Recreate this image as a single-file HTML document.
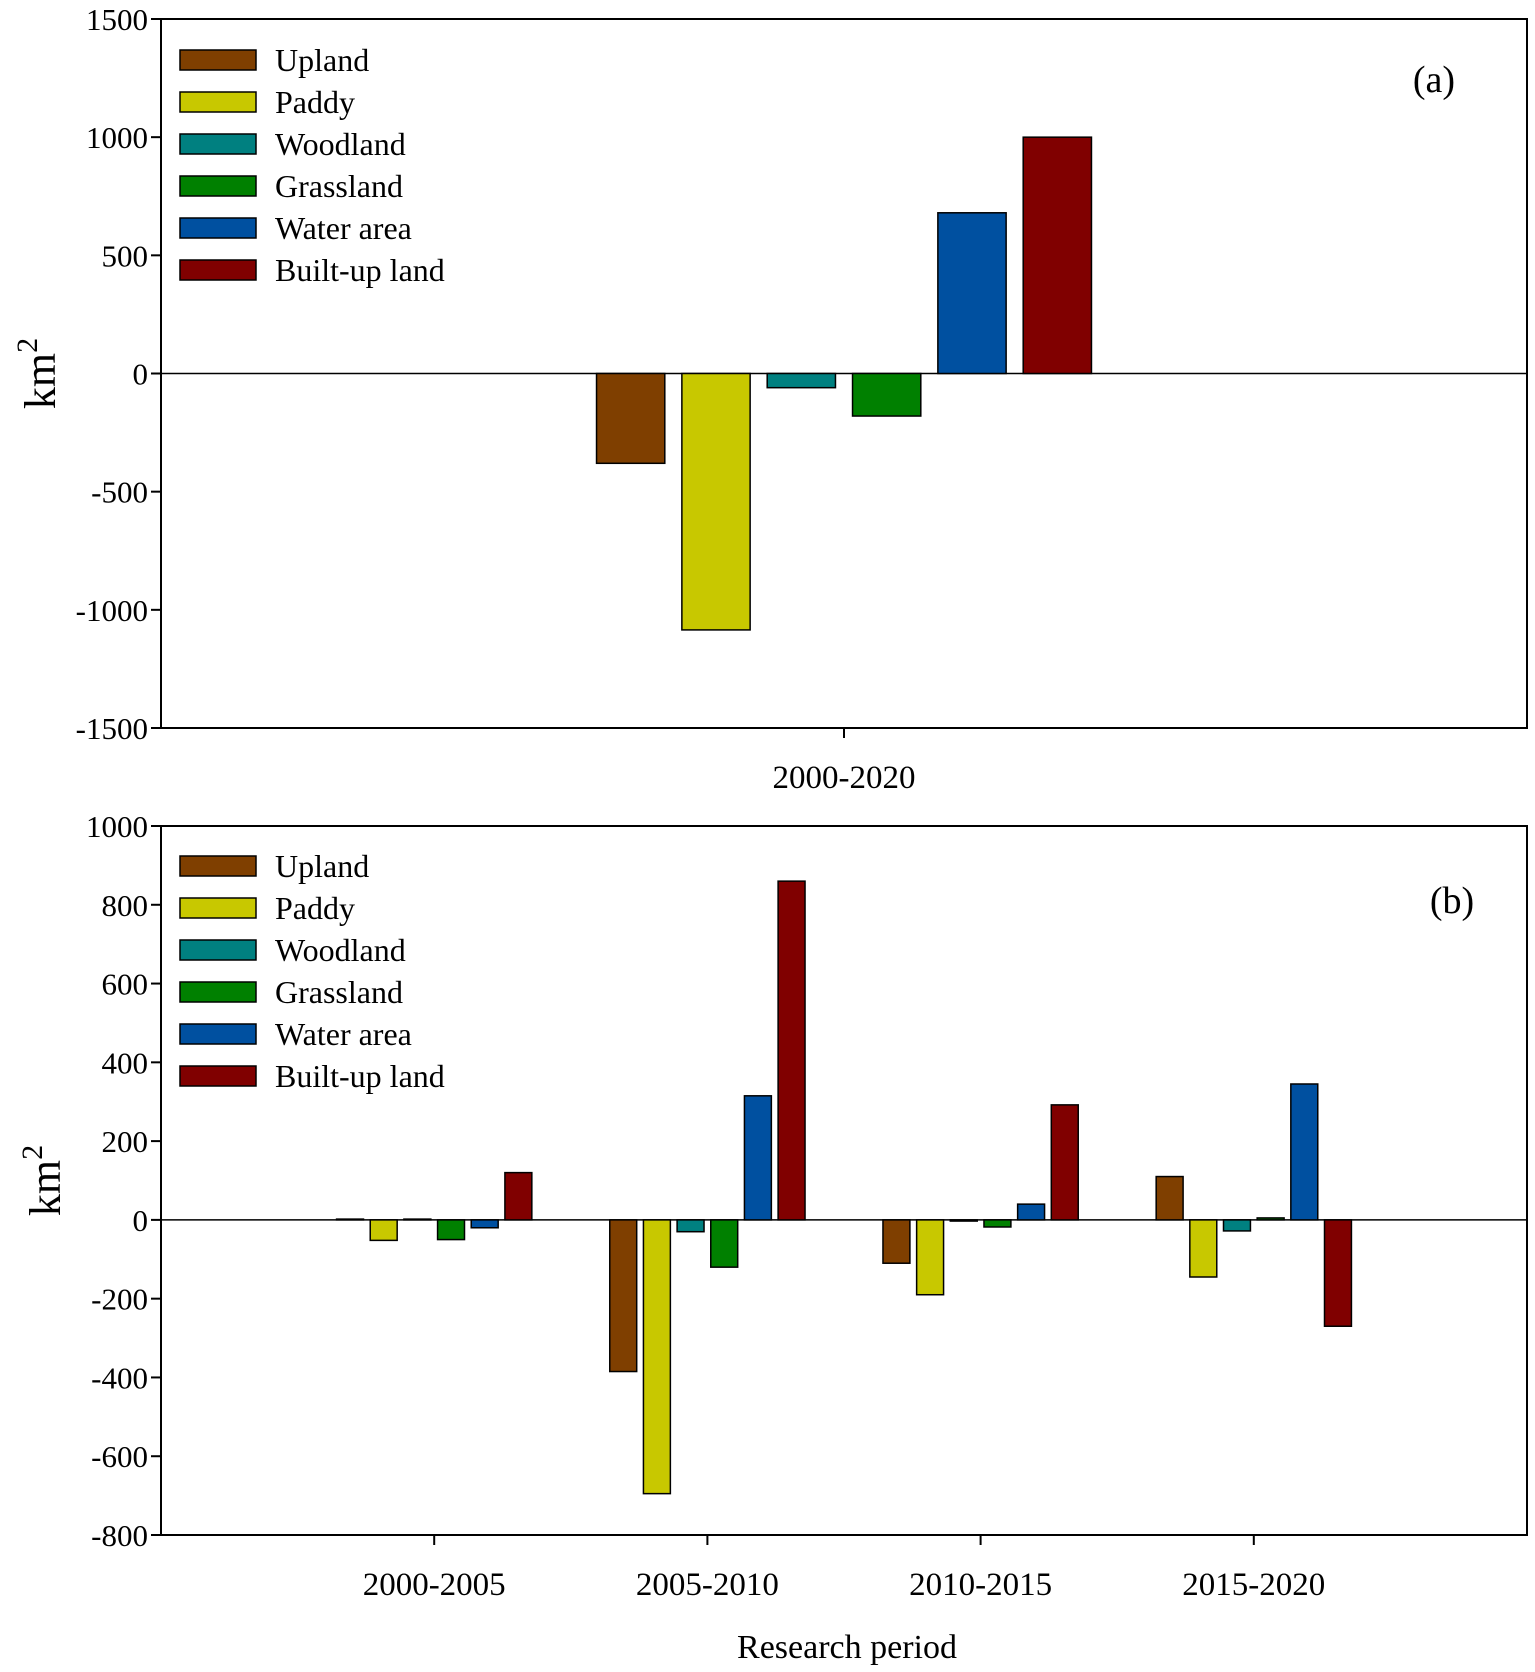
<!DOCTYPE html>
<html><head><meta charset="utf-8"><style>
body{margin:0;background:#fff}
svg text{font-family:"Liberation Serif",serif;fill:#000}
</style></head><body>
<svg id="c" width="1535" height="1667" xmlns="http://www.w3.org/2000/svg"></svg>
<script>
const seriesNames = ["Upland","Paddy","Woodland","Grassland","Water area","Built-up land"];
const seriesColors = ["#7f3f00","#c8c800","#008080","#008000","#0050a0","#800000"];
const catsA = ["2000-2020"];
const valsA = [[-380],[-1085],[-60],[-180],[680],[1000]];
const ticksA = [1500,1000,500,0,-500,-1000,-1500];
const catsB = ["2000-2005","2005-2010","2010-2015","2015-2020"];
const valsB = [
  [2,-385,-110,110],
  [-52,-695,-190,-145],
  [2,-30,-3,-28],
  [-50,-120,-18,5],
  [-20,315,40,345],
  [120,860,292,-270]
];
const ticksB = [1000,800,600,400,200,0,-200,-400,-600,-800];
const NS="http://www.w3.org/2000/svg";
const svg=document.getElementById('c');
function mk(t,a,p){const e=document.createElementNS(NS,t);for(const k in a)e.setAttribute(k,a[k]);(p||svg).appendChild(e);return e;}
function panel(o){
  const g=mk('g',{});
  
  
  const L=161,R=1527,T=o.top,B=o.bottom,min=o.ticks[o.ticks.length-1],max=o.ticks[0];
  const y=v=>T+(max-v)/(max-min)*(B-T);
  const n=o.cats.length, step=(R-L)/(n+1);
  const xc=i=>L+step*(i+1);
  const z=mk('line',{x1:L,x2:R,y1:y(0),y2:y(0),stroke:'#000','stroke-width':1.5},g);
  
  
  const gw=o.groupW, bstep=gw/6, bw=bstep*0.8;
  for(let s=0;s<6;s++){for(let i=0;i<n;i++){
    const v=o.vals[s][i];
    const x=xc(i)-gw/2+s*bstep+(bstep-bw)/2;
    const r=mk('rect',{x:x,y:Math.min(y(v),y(0)),width:bw,height:Math.abs(y(v)-y(0)),fill:seriesColors[s],stroke:'#000','stroke-width':1.5},g);
    
    
  }}
  const f=mk('rect',{x:L,y:T,width:R-L,height:B-T,fill:'none',stroke:'#000','stroke-width':2},g);
  
  
  o.ticks.forEach(t=>{
    mk('line',{x1:L-10,x2:L,y1:y(t),y2:y(t),stroke:'#000','stroke-width':2},g);
    const tx=mk('text',{x:148,y:y(t)+11,'text-anchor':'end','font-size':31},g);
    tx.textContent=t;
    
    
  });
  o.cats.forEach((c,i)=>{
    mk('line',{x1:xc(i),x2:xc(i),y1:B,y2:B+10,stroke:'#000','stroke-width':2},g);
    const tx=mk('text',{x:xc(i),y:B+60,'text-anchor':'middle','font-size':33},g);
    tx.textContent=c;
    
    
  });
  const yc=(T+B)/2;
  const yt=mk('text',{x:0,y:0,'font-size':44,transform:`translate(${o.ytx},${yc}) rotate(-90)`,'text-anchor':'middle'},g);
  yt.innerHTML='km<tspan dy="-18" font-size="30">2</tspan>';
  
  
  const lg=mk('g',{},g);
  
  
  seriesNames.forEach((s,k)=>{
    const yy=o.legTop+k*42;
    const e=mk('g',{},lg);
    
    
    mk('rect',{x:180,y:yy,width:76,height:20,fill:seriesColors[k],stroke:'#000','stroke-width':1.5},e);
    const t=mk('text',{x:275,y:yy+21,'font-size':32},e);
    t.textContent=s;
  });
  const pl=mk('text',{x:o.lblX,y:o.lblY,'font-size':38,'text-anchor':'middle'},g);
  pl.textContent=o.label;
  
  
}
panel({name:'panel-a',top:19,bottom:728,cats:catsA,vals:valsA,ticks:ticksA,groupW:512,legTop:50,label:'(a)',lblX:1434,lblY:92,ytx:55});
panel({name:'panel-b',top:826,bottom:1535,cats:catsB,vals:valsB,ticks:ticksB,groupW:202,legTop:856,label:'(b)',lblX:1452,lblY:913,ytx:60});
const xt=mk('text',{x:847,y:1658,'text-anchor':'middle','font-size':34});
xt.textContent='Research period';


</script>
</body></html>
